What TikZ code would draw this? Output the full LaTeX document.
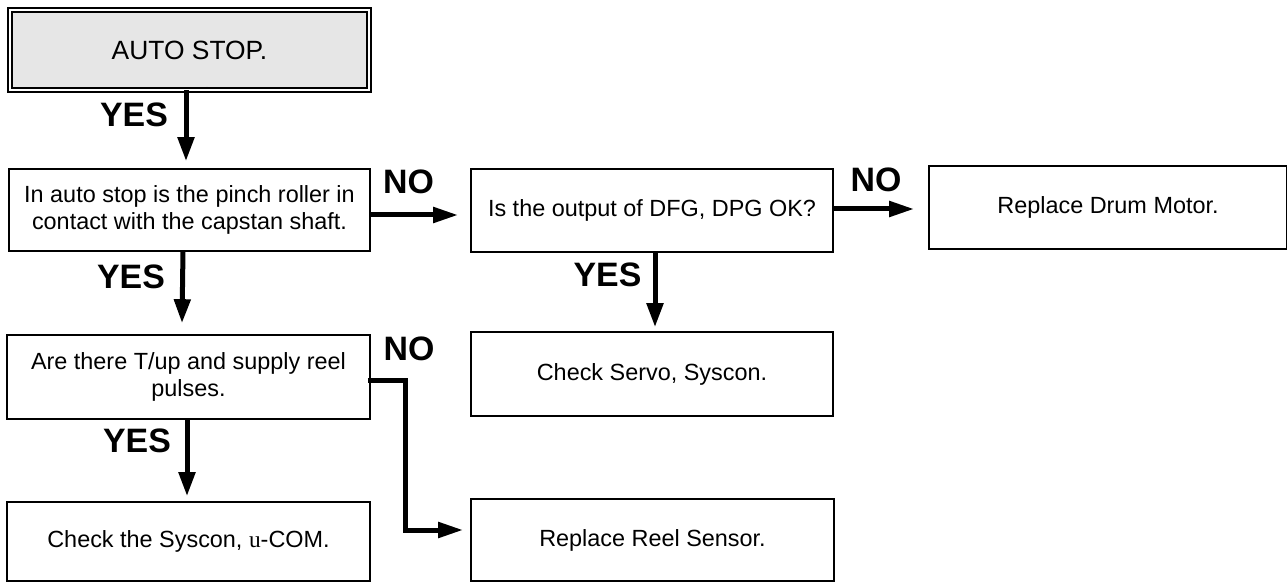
\documentclass[tikz,border=0pt]{standalone}
\usepackage{fontspec}
\setmainfont{Liberation Sans}
\newfontfamily\ufont{Liberation Serif}
\usetikzlibrary{arrows.meta}
\definecolor{startgray}{HTML}{E6E6E6}
\begin{document}
\begin{tikzpicture}[x=1bp,y=-1bp,
  box/.style={draw=black, line width=2.4bp, fill=white, inner sep=0pt, outer sep=0pt,
    align=center, font=\fontsize{23.5}{27.5}\selectfont},
  startbox/.style={draw=black, double=white, double distance=2.2bp, line width=1.8bp,
    fill=startgray, inner sep=0pt, outer sep=0pt, font=\fontsize{26.5}{30}\selectfont},
  answer/.style={inner sep=0pt, font=\fontsize{34}{40}\selectfont\bfseries},
  flow/.style={line width=5bp, -{Triangle[length=24bp,width=16bp]}},
  flowh/.style={line width=5bp, -{Triangle[length=25bp,width=15bp]}}]
\useasboundingbox (0,0) rectangle (1287,584);

% process boxes
\node[startbox, minimum width=359.2bp, minimum height=80.2bp] (start) at (189.5,50) {AUTO STOP.};
\node[box, minimum width=360.6bp, minimum height=81.6bp] (pinch) at (189.5,210)
  {In auto stop is the pinch roller in\\contact with the capstan shaft.};
\node[box, minimum width=361.6bp, minimum height=82.6bp] (dfg) at (652,210.5)
  {Is the output of DFG, DPG OK?};
\node[box, minimum width=357.6bp, minimum height=82.6bp] (drum) at (1108,207.5)
  {Replace Drum Motor.};
\node[box, minimum width=361.6bp, minimum height=83.6bp] (servo) at (652,374)
  {Check Servo, Syscon.};
\node[box, minimum width=362.6bp, minimum height=83.6bp] (reel) at (188.5,377)
  {Are there T/up and supply reel\\pulses.};
\node[box, minimum width=362.6bp, minimum height=81.6bp] (sensor) at (652.5,540)
  {Replace Reel Sensor.};
\node[box, minimum width=362.6bp, minimum height=78.6bp] (syscon) at (188.5,541.5)
  {Check the Syscon, {\ufont u}-COM.};

\fill (207,88) circle (1bp);

% connectors
\draw[flow] ([xshift=-3.5bp]start.south) -- ([xshift=-3.5bp,yshift=8bp]pinch.north);
\draw[flow] ([xshift=-6.5bp]pinch.south) -- ([xshift=-6.5bp,yshift=12bp]reel.north);
\draw[flow] ([xshift=3bp]dfg.south) -- ([xshift=3bp,yshift=5bp]servo.north);
\draw[flow] ([xshift=-1.5bp]reel.south) -- ([xshift=-1.5bp,yshift=6bp]syscon.north);
\draw[flowh] ([yshift=-5bp]pinch.east) -- ([xshift=-13bp,yshift=-5bp]pinch.east -| dfg.west);
\draw[flowh] ([yshift=1.5bp]dfg.east) -- ([xshift=-15bp,yshift=1.5bp]dfg.east -| drum.west);
\draw[flowh] ([xshift=-2bp,yshift=-3bp]reel.east) -- ++(38,0) |- ([xshift=-8bp,yshift=10bp]sensor.west);

% answer labels
\node[answer] (y1) at (134,115) {YES};
\node[answer] (y2) at (131,277) {YES};
\node[answer] (y3) at (607.5,275) {YES};
\node[answer] (y4) at (137,440.5) {YES};
\node[answer] (n1) at (408.5,181.5) {NO};
\node[answer] (n2) at (876,180) {NO};
\node[answer] (n3) at (409,348.5) {NO};
\end{tikzpicture}
\end{document}
